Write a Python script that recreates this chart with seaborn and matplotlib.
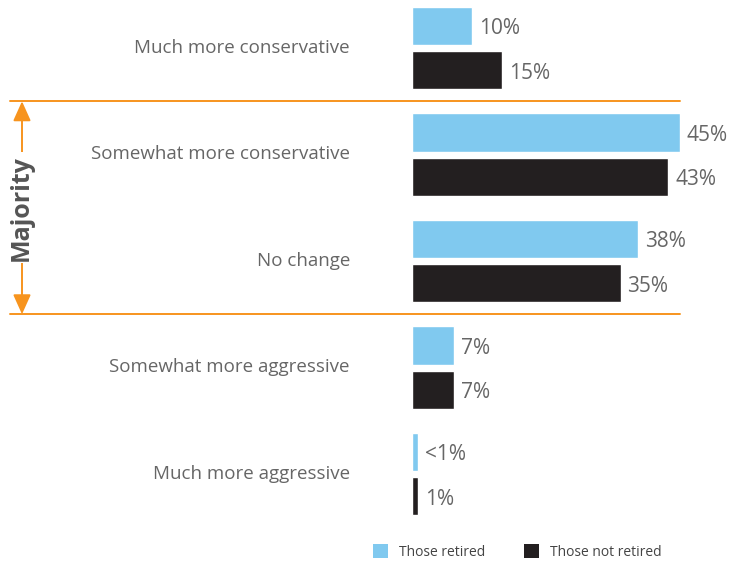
import matplotlib
matplotlib.use("Agg")
import matplotlib.pyplot as plt
import matplotlib.transforms as mtransforms
from matplotlib.patches import Patch
import seaborn as sns
import pandas as pd

categories = [
    "Much more conservative",
    "Somewhat more conservative",
    "No change",
    "Somewhat more aggressive",
    "Much more aggressive",
]
groups = ["Those retired", "Those not retired"]
retired = [10, 45, 38, 7, 0.9]
not_retired = [15, 43, 35, 7, 1]
retired_labels = ["10%", "45%", "38%", "7%", "<1%"]
not_retired_labels = ["15%", "43%", "35%", "7%", "1%"]

BLUE = "#80C9EF"
BLACK = "#231F20"
ORANGE = "#F7941E"
GRAY = "#666666"

df = pd.DataFrame({
    "category": categories * 2,
    "group": [groups[0]] * len(categories) + [groups[1]] * len(categories),
    "value": retired + not_retired,
})

sns.set_theme(style="white")
plt.rcParams["font.family"] = ["Open Sans", "DejaVu Sans"]

W, H = 731, 564
fig = plt.figure(figsize=(W / 100, H / 100), dpi=100)
ax = fig.add_axes([412.5 / W, (H - 527.25) / H, (680 - 412.5) / W, 527.15 / H])

sns.barplot(data=df, y="category", x="value", hue="group", order=categories,
            hue_order=groups, palette=[BLUE, BLACK], orient="h",
            width=0.83, gap=0.136, saturation=1, legend=False, ax=ax)

ax.set_xlim(0, 45)
ax.set_ylim(4.5, -0.45)
ax.set_xlabel("")
ax.set_ylabel("")
ax.set_xticks([])
for s in ax.spines.values():
    s.set_visible(False)
ax.tick_params(axis="y", length=0, pad=45, labelsize=13.5, labelcolor=GRAY)

# nudge category names slightly upward
up = mtransforms.ScaledTranslation(0, 1.5 / 72, fig.dpi_scale_trans)
for lab in ax.get_yticklabels():
    lab.set_transform(lab.get_transform() + up)

# value labels at the bar ends, sitting a touch below the bar centre
for cont, labs in zip(ax.containers, [retired_labels, not_retired_labels]):
    for t in ax.bar_label(cont, labels=labs, padding=5, fontsize=15, color=GRAY):
        t.xyann = (5, -2.2)

# "Majority" bracket: horizontal rules and double-headed arrow
blend = mtransforms.blended_transform_factory(fig.transFigure, ax.transData)
for yv in (0.5, 2.5):
    ax.plot([10 / W, 680 / W], [yv, yv], transform=blend, color=ORANGE,
            lw=1.4, clip_on=False)
ax.annotate("", xy=(22 / W, 0.5), xytext=(22 / W, 2.5), xycoords=blend,
            textcoords=blend,
            arrowprops=dict(arrowstyle="<|-|>,head_length=1.0,head_width=0.45",
                            color=ORANGE, lw=1.4, shrinkA=0, shrinkB=0))
ax.text(21 / W, 1.5, "Majority", transform=blend, rotation=90, ha="center",
        va="center", fontsize=18, fontweight="bold", color="#555555",
        bbox=dict(facecolor="white", edgecolor="none", pad=2))

handles = [Patch(facecolor=BLUE, edgecolor="none"),
           Patch(facecolor=BLACK, edgecolor="none")]
fig.legend(handles, groups, loc="center left", bbox_to_anchor=(360 / W, 1 - 552 / H),
           ncol=2, frameon=False, fontsize=10, labelcolor="#444444",
           handlelength=1.1, handleheight=1.1, handletextpad=0.8,
           columnspacing=2.8)

fig.savefig("out.png", dpi=100)
